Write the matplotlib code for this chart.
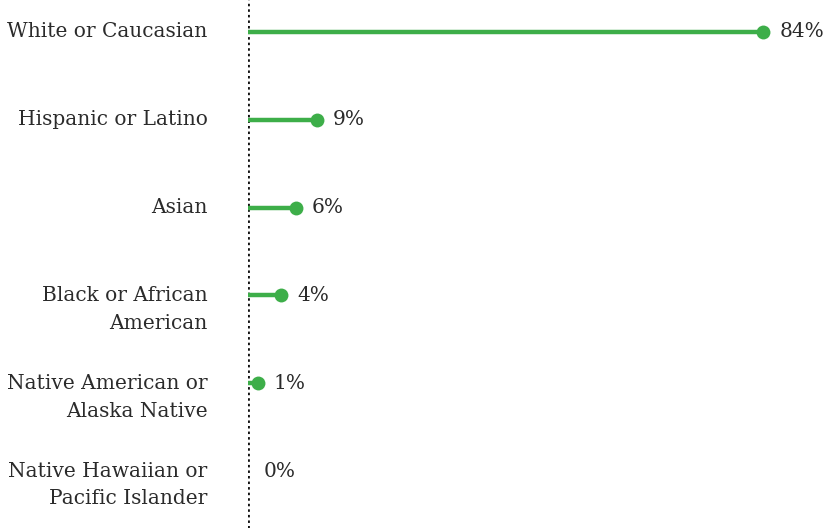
import numpy as np
import matplotlib
matplotlib.use("Agg")
import matplotlib.pyplot as plt

categories = [
    "White or Caucasian",
    "Hispanic or Latino",
    "Asian",
    "Black or African\nAmerican",
    "Native American or\nAlaska Native",
    "Native Hawaiian or\nPacific Islander",
]
values = [84, 9, 6, 4, 1, 0]
value_labels = ["84%", "9%", "6%", "4%", "1%", "0%"]

GREEN = "#3dae49"
INK = "#2b2b2b"
FONT = "DejaVu Serif"
POW = 0.9
SIZE = 14.5

plt.rcParams["font.family"] = [FONT, "DejaVu Sans"]

fig = plt.figure(figsize=(8.32, 5.28), dpi=100)
ax = fig.add_axes([248 / 832, 0, (832 - 248) / 832, 1])

# mild power scale so the small shares stay readable next to the large one
ax.set_xscale("function", functions=(lambda v: np.power(np.clip(v, 0, None), POW),
                                     lambda v: np.power(np.clip(v, 0, None), 1 / POW)))
ax.set_xlim(0, 96.5)
ax.set_ylim(5.648, -0.364)

ys = np.arange(len(categories))
for y, v, lab in zip(ys, values, value_labels):
    if v > 0:
        ax.plot([0, v], [y, y], color=GREEN, lw=3.2, solid_capstyle="butt", zorder=2)
        ax.plot([v], [y], "o", color=GREEN, ms=10, mec="none", zorder=3)
    ax.annotate(lab, xy=(v, y), xytext=(11.5, 0), textcoords="offset points",
                ha="left", va="center", fontsize=SIZE, color=INK)

# category labels to the left of the axis, extra lines stacked below
for y, cat in zip(ys, categories):
    for k, line in enumerate(cat.split("\n")):
        ax.annotate(line, xy=(0, y), xytext=(-29, -20 * k), textcoords="offset points",
                    ha="right", va="center", fontsize=SIZE, color=INK,
                    annotation_clip=False)

ax.axvline(0, color="#111111", lw=2.0, ls=(0, (0.9, 1.1)), zorder=1)

for s in ax.spines.values():
    s.set_visible(False)
ax.set_xticks([])
ax.set_yticks([])
ax.patch.set_visible(False)

fig.savefig("out.png", dpi=100)
